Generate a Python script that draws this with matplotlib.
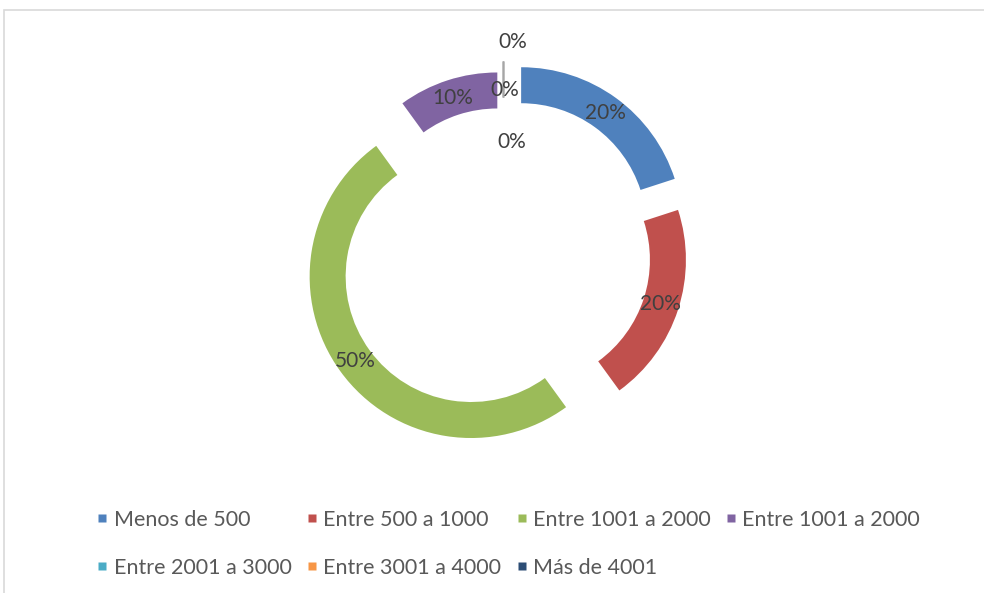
import matplotlib.pyplot as plt
from matplotlib.lines import Line2D
from matplotlib.patches import Rectangle

# datos
categorias = ["Menos de 500", "Entre 500 a 1000", "Entre 1001 a 2000", "Entre 1001 a 2000",
              "Entre 2001 a 3000", "Entre 3001 a 4000", "Más de 4001"]
valores = [20, 20, 50, 10, 0, 0, 0]
colores = ["#4F81BD", "#C0504D", "#9BBB59", "#8064A2", "#4BACC6", "#F79646", "#2C4D75"]

# separacion de cada porcion (en pixeles, el eje esta en pixeles)
separacion = [30, 22, 40, 20, 30, 30, 30]

plt.rcParams['font.family'] = ['Lato', 'DejaVu Sans']

fig = plt.figure(figsize=(9.84, 5.93), dpi=100)
ax = fig.add_axes([0, 0, 1, 1])
ax.set_axis_off()

# marco gris del grafico
fig.patches.append(Rectangle((4 / 984, -0.1), 1.2, 1 - 10 / 593 + 0.1, transform=fig.transFigure,
                             fill=False, edgecolor='#D9D9D9', linewidth=1.2))

wedges, textos, pcts = ax.pie(valores, colors=colores, explode=separacion, startangle=90,
                              counterclock=False, radius=161.5, center=(503.5, 340),
                              wedgeprops=dict(width=36, edgecolor='none'),
                              autopct='%.0f%%', pctdistance=0.885,
                              textprops=dict(color='#404040', fontsize=15))
ax.set_xlim(0, 984)
ax.set_ylim(0, 593)
ax.set_aspect('equal')

# porciones de 0%: solo una linea gris
for w, v in zip(wedges, valores):
    if v == 0:
        w.set_edgecolor('#A6A6A6')
        w.set_linewidth(1.2)

# etiquetas de 0% separadas como en excel
ceros = [p for p, v in zip(pcts, valores) if v == 0]
desplaz = [(9, 38), (1, -10), (8, -62)]
for p, (dx, dy) in zip(ceros, desplaz):
    x, y = p.get_position()
    p.set_position((x + dx, y + dy))

# leyenda en orden por filas
orden = [0, 4, 1, 5, 2, 6, 3]
handles = [Line2D([], [], linestyle='none', marker='s', markersize=6,
                  markerfacecolor=colores[i], markeredgecolor='none') for i in orden]
labels = [categorias[i] for i in orden]
fig.legend(handles, labels, ncol=4, loc='center', bbox_to_anchor=(0.517, 0.083),
           frameon=False, fontsize=15.5, labelcolor='#595959', handlelength=0.45,
           handletextpad=0.3, columnspacing=0.72, labelspacing=1.3)

fig.savefig('out.png', dpi=100)
